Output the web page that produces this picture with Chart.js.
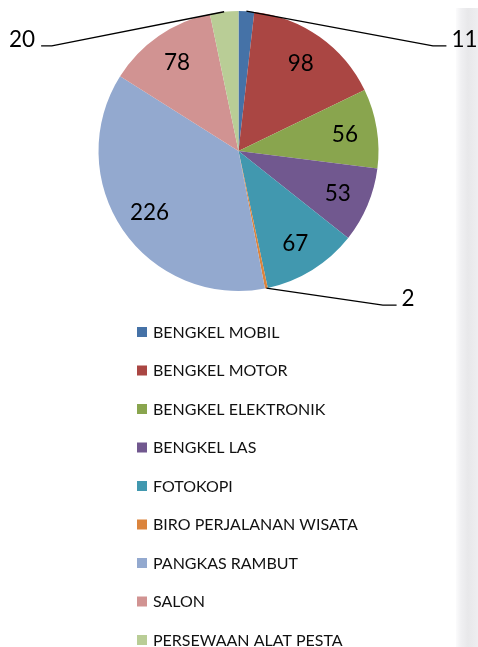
<!DOCTYPE html>
<html><head><meta charset="utf-8">
<script src="https://cdn.jsdelivr.net/npm/chart.js@4/dist/chart.umd.min.js"></script>
<style>
html,body{margin:0;padding:0;}
body{width:478px;height:647px;overflow:hidden;position:relative;background:#fff;}
#strip{position:absolute;left:456px;top:8px;width:22px;height:639px;
 background:linear-gradient(to right,#fbfbfc 0,#f0f0f2 5px,#e8e8ea 12px,#eeeef0 22px);}
#wrap{position:absolute;left:0;top:0;width:478px;height:647px;}
</style></head><body>
<div id="strip"></div>
<div id="wrap"><canvas id="c" width="478" height="647"></canvas></div>
<script>
// ---- data ----
const categories = ["BENGKEL MOBIL","BENGKEL MOTOR","BENGKEL ELEKTRONIK","BENGKEL LAS","FOTOKOPI","BIRO PERJALANAN WISATA","PANGKAS RAMBUT","SALON","PERSEWAAN ALAT PESTA"];
const values = [11,98,56,53,67,2,226,78,20];
// ---- styles ----
const colors = ["#4572A7","#AA4643","#89A54E","#71588F","#4198AF","#DB843D","#93A9CF","#D19392","#B9CD96"];
const FONT = "Lato, 'Open Sans', sans-serif";
// outside (leader-line) labels: elbow offset from arc anchor, horizontal run
const outside = {0:{dx:186.5,dy:34.7,h:13.5}, 5:{dx:116.5,dy:17,h:13.7}, 8:{dx:-172.3,dy:34.2,h:-10.7}};

const labelPlugin = {
  id:'labels',
  afterDatasetsDraw(chart){
    const ctx = chart.ctx;
    const meta = chart.getDatasetMeta(0);
    const ds = chart.data.datasets[0];
    ctx.save();
    ctx.fillStyle = '#000';
    ctx.font = "22.5px " + FONT;
    ctx.textBaseline = 'alphabetic';
    meta.data.forEach((arc,i)=>{
      const {x,y,startAngle,endAngle,outerRadius} = arc.getProps(['x','y','startAngle','endAngle','outerRadius'],true);
      const mid = (startAngle+endAngle)/2;
      const txt = String(ds.data[i]);
      if (outside[i]) {
        const o = outside[i];
        const ax = x + outerRadius*Math.cos(mid), ay = y + outerRadius*Math.sin(mid);
        const ex = ax + o.dx, ey = ay + o.dy, hx = ex + o.h;
        ctx.beginPath();
        ctx.strokeStyle = '#000'; ctx.lineWidth = 1.3;
        ctx.moveTo(ax,ay); ctx.lineTo(ex,ey); ctx.lineTo(hx,ey); ctx.stroke();
        ctx.textAlign = o.h > 0 ? 'left' : 'right';
        ctx.fillText(txt, hx + (o.h>0?5:-6), ey - 7 + 8);
      } else {
        const r = outerRadius*0.77;
        ctx.textAlign = 'center';
        ctx.fillText(txt, x + r*Math.cos(mid), y + r*Math.sin(mid) + 8);
      }
    });
    ctx.restore();
  },
  afterDraw(chart){
    const ctx = chart.ctx;
    const area = chart.chartArea;
    const ds = chart.data.datasets[0];
    ctx.save();
    ctx.font = "16px " + FONT;
    ctx.textAlign = 'left';
    ctx.textBaseline = 'alphabetic';
    chart.data.labels.forEach((lab,i)=>{
      const cy = area.bottom + 41 + i*38.5;
      ctx.fillStyle = ds.backgroundColor[i];
      ctx.fillRect(137, cy-5, 10, 10);
      ctx.fillStyle = '#111';
      ctx.fillText(lab, 153, cy + 5.8);
    });
    ctx.restore();
  }
};

new Chart(document.getElementById('c'), {
  type:'pie',
  data:{ labels:categories, datasets:[{ data:values, backgroundColor:colors, borderWidth:0 }] },
  options:{
    responsive:false, animation:false,
    radius:140,
    layout:{ padding:{ top:11, bottom:356, left:0, right:1 } },
    plugins:{ legend:{display:false}, tooltip:{enabled:false} }
  },
  plugins:[labelPlugin]
});
</script>
</body></html>
